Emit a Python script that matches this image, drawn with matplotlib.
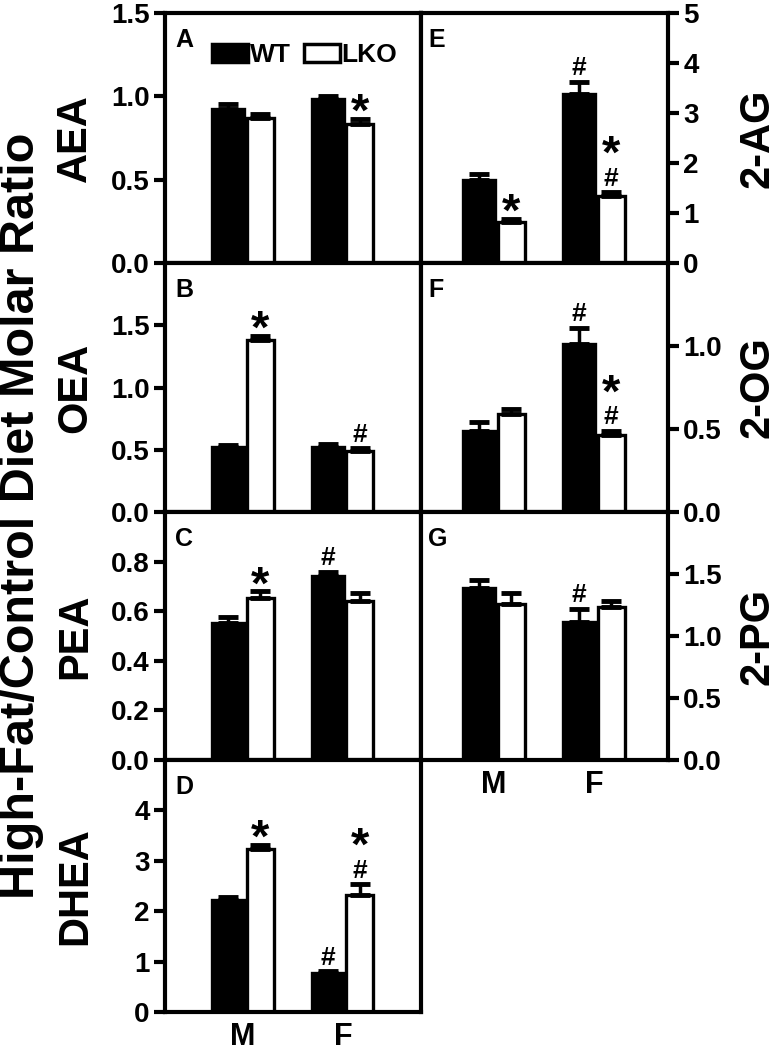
import numpy as np
import matplotlib.pyplot as plt
from matplotlib.patches import Patch

plt.rcParams['font.family'] = ['Liberation Sans', 'DejaVu Sans']
plt.rcParams['font.weight'] = 'bold'

groups = ['M', 'F']

# ratio values (WT / LKO), upper SEM, significance marks
aea_wt, aea_wt_err = [0.925, 0.985], [0.03, 0.02]
aea_lko, aea_lko_err = [0.87, 0.835], [0.025, 0.03]
aea_wt_sig, aea_lko_sig = ['', ''], ['', '*']

oea_wt, oea_wt_err = [0.525, 0.525], [0.01, 0.02]
oea_lko, oea_lko_err = [1.385, 0.49], [0.03, 0.025]
oea_wt_sig, oea_lko_sig = ['', ''], ['*', '#']

pea_wt, pea_wt_err = [0.553, 0.743], [0.025, 0.017]
pea_lko, pea_lko_err = [0.654, 0.643], [0.026, 0.032]
pea_wt_sig, pea_lko_sig = ['', '#'], ['*', '']

dhea_wt, dhea_wt_err = [2.22, 0.78], [0.07, 0.03]
dhea_lko, dhea_lko_err = [3.24, 2.32], [0.08, 0.22]
dhea_wt_sig, dhea_lko_sig = ['', '#'], ['*', '*#']

ag_wt, ag_wt_err = [1.66, 3.38], [0.13, 0.25]
ag_lko, ag_lko_err = [0.82, 1.34], [0.07, 0.08]
ag_wt_sig, ag_lko_sig = ['', '#'], ['*', '*#']

og_wt, og_wt_err = [0.49, 1.015], [0.055, 0.095]
og_lko, og_lko_err = [0.59, 0.465], [0.03, 0.025]
og_wt_sig, og_lko_sig = ['', '#'], ['', '*#']

pg_wt, pg_wt_err = [1.39, 1.11], [0.06, 0.11]
pg_lko, pg_lko_err = [1.26, 1.23], [0.09, 0.05]
pg_wt_sig, pg_lko_sig = ['', '#'], ['', '']

W, H = 776, 1050
fig = plt.figure(figsize=(W / 100, H / 100), dpi=100)

LW = 3.0


def add_ax(x0, x1, top, bot):
    return fig.add_axes([x0 / W, 1 - bot / H, (x1 - x0) / W, (bot - top) / H])


def put_marks(ax, xs, tops, marks):
    for x, t, m in zip(xs, tops, marks):
        if '#' in m:
            ax.annotate('#', (x, t), xytext=(0, 4.5), textcoords='offset points',
                        ha='center', va='baseline', fontsize=19)
        if m == '*':
            ax.annotate('*', (x, t), xytext=(0, -5), textcoords='offset points',
                        ha='center', va='baseline', fontsize=34)
        elif m == '*#':
            ax.annotate('*', (x, t), xytext=(0, 17.5), textcoords='offset points',
                        ha='center', va='baseline', fontsize=34)


def panel(ax, wt, wte, lko, lkoe, wsig, lsig, ylim, yticks, fmt, letter,
          right=False, xlabels=False):
    x = np.arange(len(groups))
    ekw = dict(elinewidth=2.5, capthick=3.5, ecolor='black')
    ax.bar(x - 0.175, wt, 0.32, color='black', edgecolor='black', lw=LW * 0.8,
           yerr=[np.zeros(2), wte], capsize=7, error_kw=ekw)
    ax.bar(x + 0.15, lko, 0.27, color='white', edgecolor='black', lw=LW * 0.8,
           yerr=[np.zeros(2), lkoe], capsize=7, error_kw=ekw)
    put_marks(ax, x - 0.175, np.array(wt) + np.array(wte), wsig)
    put_marks(ax, x + 0.15, np.array(lko) + np.array(lkoe), lsig)
    ax.set_ylim(*ylim)
    ax.set_yticks(yticks)
    ax.set_yticklabels([fmt.format(v) for v in yticks])
    for s in ax.spines.values():
        s.set_linewidth(LW)
    ax.tick_params(axis='y', direction='out', length=8, width=LW, labelsize=20, pad=3)
    if right:
        ax.yaxis.tick_right()
        ax.set_xlim(-0.75, 1.72)
    else:
        ax.set_xlim(-0.80, 1.76)
    if xlabels:
        ax.set_xticks(x - 0.02)
        ax.set_xticklabels(groups)
        ax.tick_params(axis='x', length=0, labelsize=22, pad=7)
    else:
        ax.set_xticks([])
    ax.text(0.04 if not right else 0.03, 0.94, letter, transform=ax.transAxes,
            ha='left', va='top', fontsize=18)


tops = [13, 263, 512, 760]
bots = [263, 512, 760, 1012]

axA = add_ax(165, 421, tops[0], bots[0])
axB = add_ax(165, 421, tops[1], bots[1])
axC = add_ax(165, 421, tops[2], bots[2])
axD = add_ax(165, 421, tops[3], bots[3])
axE = add_ax(421, 668, tops[0], bots[0])
axF = add_ax(421, 668, tops[1], bots[1])
axG = add_ax(421, 668, tops[2], bots[2])

panel(axA, aea_wt, aea_wt_err, aea_lko, aea_lko_err, aea_wt_sig, aea_lko_sig,
      (0, 1.5), [0, 0.5, 1.0, 1.5], '{:.1f}', 'A')
panel(axB, oea_wt, oea_wt_err, oea_lko, oea_lko_err, oea_wt_sig, oea_lko_sig,
      (0, 2.0), [0, 0.5, 1.0, 1.5], '{:.1f}', 'B')
panel(axC, pea_wt, pea_wt_err, pea_lko, pea_lko_err, pea_wt_sig, pea_lko_sig,
      (0, 1.0), [0, 0.2, 0.4, 0.6, 0.8], '{:.1f}', 'C')
panel(axD, dhea_wt, dhea_wt_err, dhea_lko, dhea_lko_err, dhea_wt_sig, dhea_lko_sig,
      (0, 5), [0, 1, 2, 3, 4], '{:.0f}', 'D', xlabels=True)
panel(axE, ag_wt, ag_wt_err, ag_lko, ag_lko_err, ag_wt_sig, ag_lko_sig,
      (0, 5), [0, 1, 2, 3, 4, 5], '{:.0f}', 'E', right=True)
panel(axF, og_wt, og_wt_err, og_lko, og_lko_err, og_wt_sig, og_lko_sig,
      (0, 1.5), [0, 0.5, 1.0], '{:.1f}', 'F', right=True)
panel(axG, pg_wt, pg_wt_err, pg_lko, pg_lko_err, pg_wt_sig, pg_lko_sig,
      (0, 2.0), [0, 0.5, 1.0, 1.5], '{:.1f}', 'G', right=True, xlabels=True)

handles = [Patch(facecolor='black', edgecolor='black', lw=2.5),
           Patch(facecolor='white', edgecolor='black', lw=2.5)]
axA.legend(handles, ['WT', 'LKO'], loc='upper left', bbox_to_anchor=(0.184, 0.88),
           frameon=False, fontsize=19, ncol=2, handlelength=1.35, handleheight=0.7,
           handletextpad=0.08, columnspacing=0.5, borderpad=0, borderaxespad=0)

left_names = ['AEA', 'OEA', 'PEA', 'DHEA']
right_names = ['2-AG', '2-OG', '2-PG']
for i, name in enumerate(left_names):
    yc = (tops[i] + bots[i]) / 2
    fig.text(75 / W, 1 - yc / H, name, rotation=90, ha='center', va='center', fontsize=30)
for i, name in enumerate(right_names):
    yc = (tops[i] + bots[i]) / 2
    fig.text(758 / W, 1 - yc / H, name, rotation=90, ha='center', va='center', fontsize=30)

fig.text(22 / W, 1 - 516 / H, 'High-Fat/Control Diet Molar Ratio', rotation=90,
         ha='center', va='center', fontsize=35)

fig.savefig('out.png', dpi=100)
